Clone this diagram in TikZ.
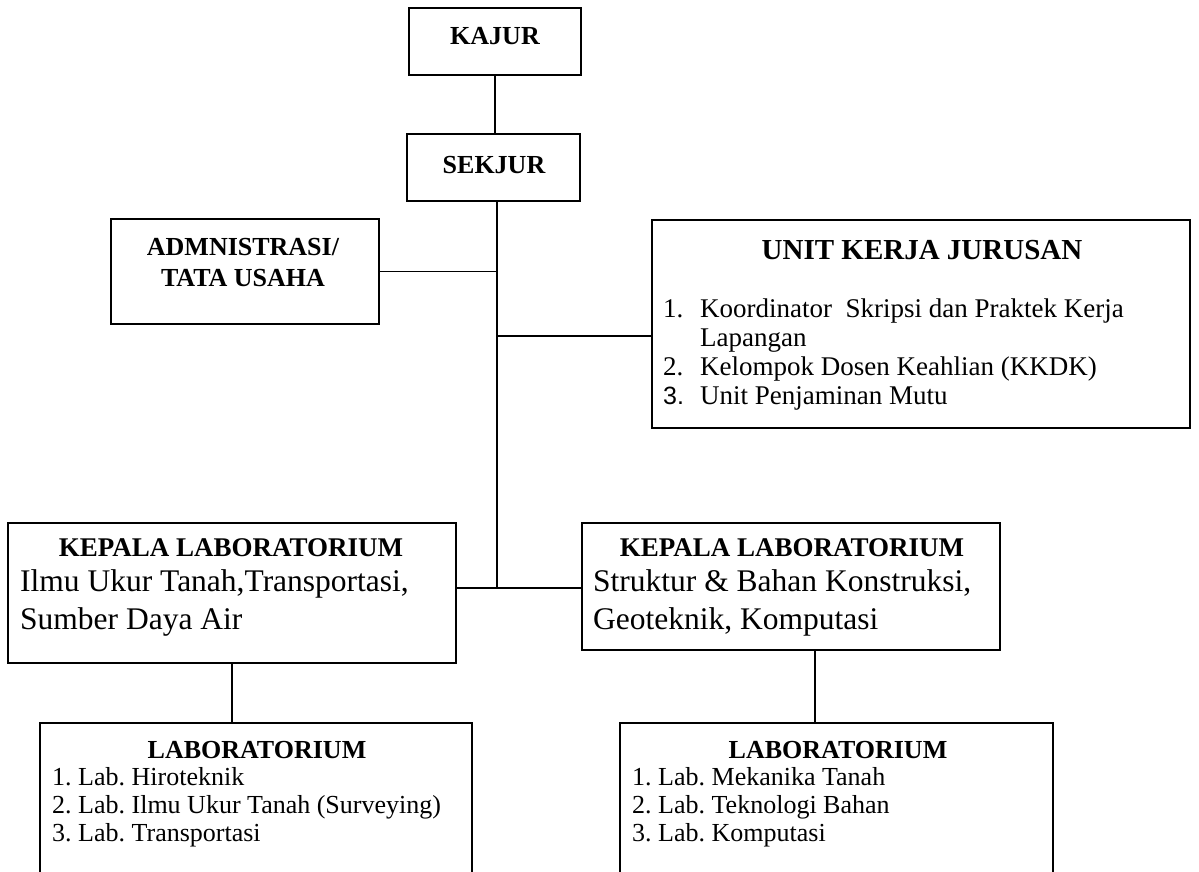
\documentclass[tikz,border=0pt]{standalone}
\usepackage{fontspec}
\setmainfont{Liberation Serif}
\newfontfamily\armsans{Liberation Sans}
\frenchspacing
\begin{document}
\begin{tikzpicture}[x=1pt,y=-1pt,
  box/.style={draw, rectangle, line width=1.6pt, inner sep=0pt, outer sep=0pt},
  conn/.style={line width=1.4pt},
  hdA/.style={inner sep=0pt, anchor=base, font=\bfseries\fontsize{26}{28}\selectfont},
  hdB/.style={inner sep=0pt, anchor=base, font=\bfseries\fontsize{29}{31}\selectfont},
  hdC/.style={inner sep=0pt, anchor=base, font=\bfseries\fontsize{27}{29}\selectfont},
  bigtxt/.style={inner sep=0pt, anchor=base west, font=\fontsize{31.5}{38}\selectfont},
  listtxt/.style={inner sep=0pt, anchor=base west, font=\fontsize{27}{29}\selectfont},
  labtxt/.style={inner sep=0pt, anchor=base west, font=\fontsize{26}{28}\selectfont}]
\useasboundingbox (0,0) rectangle (1199,871);
\clip (0,0) rectangle (1199,871);
\fill[white] (0,0) rectangle (1199,871);

% boxes
\node[box, minimum width=172pt, minimum height=67pt] (kajur) at (495,41.5) {};
\node[box, minimum width=173pt, minimum height=67pt] (sekjur) at (493.5,167.5) {};
\node[box, minimum width=268pt, minimum height=105pt] (admin) at (245,271.5) {};
\node[box, minimum width=538pt, minimum height=208pt] (unit) at (921,324) {};
\node[box, minimum width=448pt, minimum height=140pt] (klL) at (232,593) {};
\node[box, minimum width=418pt, minimum height=127pt] (klR) at (791,586.5) {};
\node[box, minimum width=432pt, minimum height=237pt] (labL) at (256,841.5) {};
\node[box, minimum width=433pt, minimum height=237pt] (labR) at (836.5,841.5) {};

% texts
\node[hdA] (tkajur) at (495,44) {KAJUR};
\node[hdA] (tsekjur) at (494,173) {SEKJUR};
\node[hdA] (tadm1) at (243,255) {ADMNISTRASI/};
\node[hdA] (tadm2) at (243,286) {TATA USAHA};

\node[hdB] (tunit) at (922,259) {UNIT KERJA JURUSAN};
\node[listtxt] (u1n) at (663,317) {1.};
\node[listtxt] (u1) at (700,317) {Koordinator\ \ Skripsi dan Praktek Kerja};
\node[listtxt] (u1b) at (700,346) {Lapangan};
\node[listtxt] (u2n) at (663,375) {2.};
\node[listtxt] (u2) at (700,375) {Kelompok Dosen Keahlian (KKDK)};
\node[listtxt] (u3n) at (663,404) {\armsans\fontsize{25}{29}\selectfont 3.};
\node[listtxt] (u3) at (700,404) {Unit Penjaminan Mutu};

\node[hdC] (tklL) at (231,556) {KEPALA LABORATORIUM};
\node[bigtxt] (klL1) at (20,591) {Ilmu Ukur Tanah,Transportasi,};
\node[bigtxt] (klL2) at (20,629) {Sumber Daya Air};
\node[hdC] (tklR) at (792,556) {KEPALA LABORATORIUM};
\node[bigtxt] (klR1) at (593,591) {Struktur \& Bahan Konstruksi,};
\node[bigtxt] (klR2) at (593,629) {Geoteknik, Komputasi};

\node[hdA] (tlabL) at (257,758) {LABORATORIUM};
\node[labtxt] (lL1) at (52,785) {1. Lab. Hiroteknik};
\node[labtxt] (lL2) at (52,813) {2. Lab. Ilmu Ukur Tanah (Surveying)};
\node[labtxt] (lL3) at (52,841) {3. Lab. Transportasi};
\node[hdA] (tlabR) at (838,758) {LABORATORIUM};
\node[labtxt] (lR1) at (632,785) {1. Lab. Mekanika Tanah};
\node[labtxt] (lR2) at (632,813) {2. Lab. Teknologi Bahan};
\node[labtxt] (lR3) at (632,841) {3. Lab. Komputasi};

% junction coordinates
\coordinate (trunkTop) at (497,201);
\coordinate (unitJ) at (497,336);
\coordinate (labJ) at (497,588);
\coordinate (rDropTop) at (815,650);

% connectors
\draw[conn] (kajur.south) -- (kajur.south |- sekjur.north);
\draw[conn] (trunkTop) -- (labJ);
\draw[conn] (admin.east) -- (admin.east -| trunkTop);
\draw[conn] (unitJ) -- (unitJ -| unit.west);
\draw[conn] (labJ -| klL.east) -- (labJ -| klR.west);
\draw[conn] (klL.south) -- (klL.south |- labL.north);
\draw[conn] (rDropTop) -- (rDropTop |- labR.north);
\end{tikzpicture}
\end{document}
